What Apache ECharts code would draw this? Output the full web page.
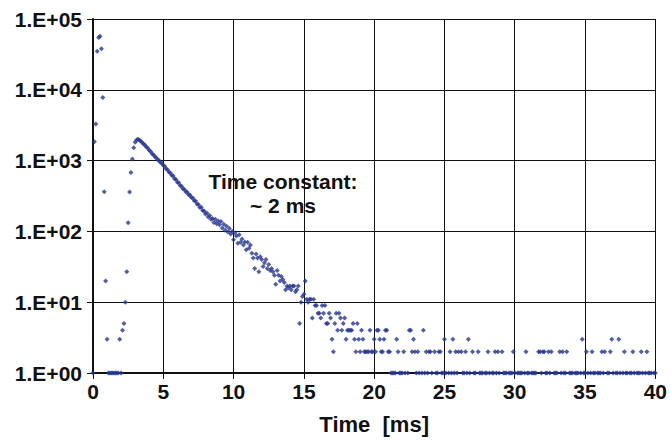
<!DOCTYPE html>
<html>
<head>
<meta charset="utf-8">
<script src="https://cdn.jsdelivr.net/npm/echarts@6/dist/echarts.min.js"></script>
<style>
html,body{margin:0;padding:0;background:#fff;}
#chart{width:670px;height:442px;}
</style>
</head>
<body>
<div id="chart"></div>
<script>
// Bin width of the counting histogram (ms)
const binWidthMs = 0.1;
// Counts per bin (0 = empty bin, not drawn on the log scale)
const counts = [
  1,1850,3300,35000,55000,57000,38000,7800,363,20,
  3,1,1,1,1,1,1,1,1,3,
  1,4,5,10,27,133,360,680,1050,1520,
  1820,1950,2000,1950,1880,1800,1720,1650,1560,1500,
  1400,1345,1250,1210,1130,1095,1030,1000,940,915,
  860,835,770,745,690,670,620,605,555,540,
  495,485,445,435,400,392,362,358,330,328,
  300,296,270,268,243,240,218,220,198,194,
  176,182,160,168,148,152,134,148,128,140,
  124,138,112,126,104,118,98,110,92,100,
  76,96,86,68,90,70,78,64,71,55,
  70,58,64,49,42,30,48,42,27,44,
  40,32,36,40,30,34,28,30,27,24,
  18,28,24,20,23,21,19,15,17,16,
  17,15,17,17,14,15,17,5,10,12,
  13,20,11,10,11,11,6,11,9,9,
  7,7,6,9,7,9,5,5,7,6,
  3,2,5,7,4,7,6,4,5,6,
  3,4,4,4,4,5,3,2,5,3,
  2,4,3,2,2,2,2,4,2,2,
  3,2,4,4,3,2,2,3,4,4,
  2,2,1,1,1,1,3,2,1,1,
  1,2,1,0,1,4,4,2,3,2,
  1,2,1,0,1,4,1,2,1,2,
  2,1,0,2,1,1,2,2,1,1,
  3,1,0,1,2,1,3,1,2,1,
  2,0,2,1,1,2,1,3,1,0,
  2,1,1,0,2,1,1,1,0,1,
  1,2,1,0,1,1,2,1,2,1,
  0,2,1,1,1,0,1,1,1,2,
  1,0,1,1,1,1,0,1,2,1,
  1,0,1,1,1,1,0,2,2,1,
  2,2,1,1,2,1,2,0,1,1,
  1,0,2,1,2,1,1,2,0,1,
  1,1,0,1,1,1,0,1,3,1,
  1,2,1,0,1,2,1,1,0,1,
  1,1,2,1,2,0,1,1,2,3,
  1,0,1,1,3,1,0,1,2,1,
  1,0,1,1,2,1,0,1,1,1,
  2,1,0,1,2,1,1,1,0,1,1
];
const xTicks = [0,5,10,15,20,25,30,35,40];
const yTickLabels = ['1.E+00','1.E+01','1.E+02','1.E+03','1.E+04','1.E+05'];
const xTitle = 'Time  [ms]';
const annotation = ['Time constant:', '~ 2 ms'];

const points = [];
counts.forEach((c, i) => {
  if (c > 0) points.push([+(i * binWidthMs).toFixed(2), c]);
});

const font = '"Liberation Sans", Arial, Helvetica, sans-serif';
const chart = echarts.init(document.getElementById('chart'), null, {renderer: 'svg'});
chart.setOption({
  animation: false,
  backgroundColor: '#ffffff',
  grid: {left: 93, right: 13, top: 19, bottom: 69, containLabel: false},
  xAxis: {
    type: 'value',
    min: xTicks[0], max: xTicks[xTicks.length - 1], interval: 5,
    name: xTitle, nameLocation: 'middle', nameGap: 40,
    nameTextStyle: {fontFamily: font, fontWeight: 'bold', fontSize: 22, color: '#111'},
    axisLine: {show: true, onZero: false, lineStyle: {color: '#111', width: 2}},
    axisTick: {show: true, inside: false, length: 6, lineStyle: {color: '#111', width: 1}},
    axisLabel: {fontFamily: font, fontWeight: 'bold', fontSize: 21, color: '#111', margin: 8},
    splitLine: {show: true, lineStyle: {color: '#111', width: 1}}
  },
  yAxis: {
    type: 'log', logBase: 10, min: 1, max: 100000,
    axisLine: {show: true, onZero: false, lineStyle: {color: '#111', width: 2}},
    axisTick: {show: true, inside: false, length: 6, lineStyle: {color: '#111', width: 1}},
    axisLabel: {
      fontFamily: font, fontWeight: 'bold', fontSize: 21, color: '#111', margin: 11,
      formatter: v => yTickLabels[Math.round(Math.log10(v))]
    },
    minorTick: {show: false},
    splitLine: {show: true, lineStyle: {color: '#111', width: 1}}
  },
  graphic: [{
    type: 'text',
    x: 283, y: 169,
    z: 100,
    style: {
      text: annotation.join('\n'),
      font: 'bold 21px ' + font,
      fill: '#111',
      textAlign: 'center',
      lineHeight: 24
    }
  }],
  series: [{
    type: 'scatter',
    data: points,
    symbol: 'diamond',
    symbolSize: 5,
    itemStyle: {color: '#25348f'},
    clip: false
  }]
});
</script>
</body>
</html>
